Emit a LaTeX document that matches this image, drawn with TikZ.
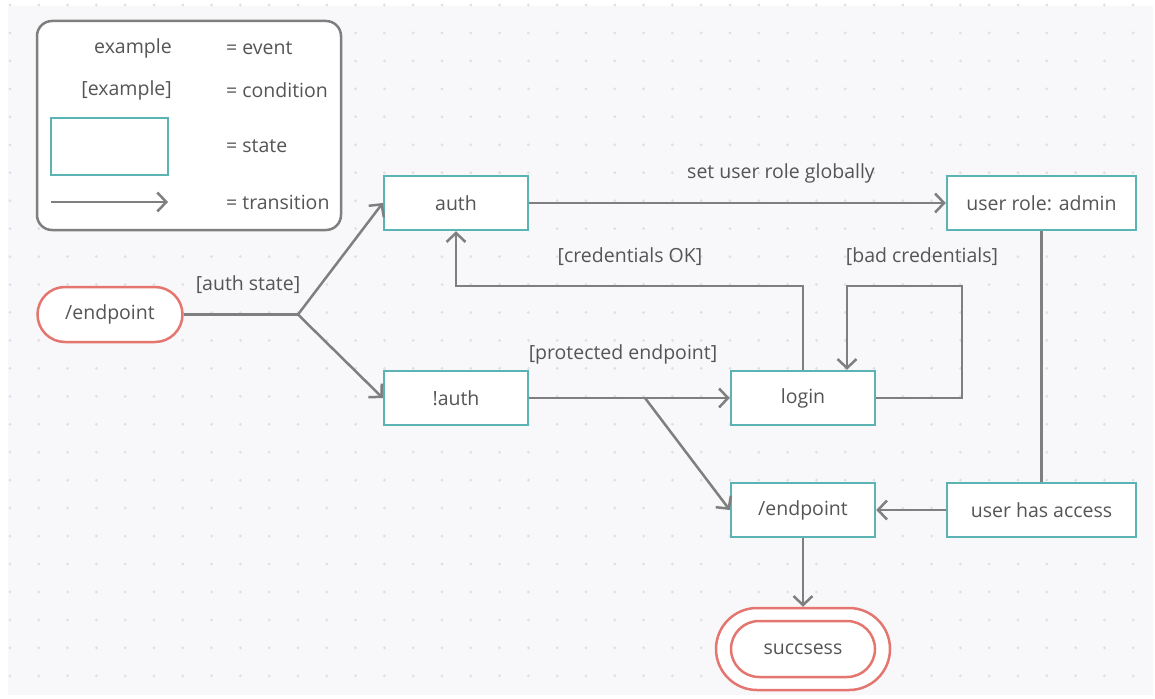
\documentclass[tikz,border=0pt]{standalone}
\usepackage{fontspec}
\setmainfont{Open Sans}
\usetikzlibrary{arrows.meta,calc}
\definecolor{bgpaper}{HTML}{F8F8FA}
\definecolor{dotc}{HTML}{DEDEE4}
\definecolor{wire}{HTML}{7F7F7F}
\definecolor{statec}{HTML}{5BB3B3}
\definecolor{endc}{HTML}{E4756F}
\definecolor{txt}{HTML}{555555}
\tikzset{
  txtstyle/.style={font=\fontsize{19.5}{22}\selectfont, text=txt},
  state/.style={draw=statec, line width=2.5pt, fill=white, minimum width=144pt,
    minimum height=54pt, inner sep=0pt, txtstyle},
  widestate/.style={state, minimum width=189pt},
  terminal/.style={draw=endc, line width=2.5pt, fill=white, rounded corners=27.5pt,
    minimum width=145pt, minimum height=55pt, inner sep=0pt, txtstyle},
  trans/.style={draw=wire, line width=2.5pt, -{Straight Barb[length=9pt,width=19pt]}},
  link/.style={draw=wire, line width=2.5pt},
  lbl/.style={txtstyle, inner sep=0pt},
}
\begin{document}
\begin{tikzpicture}[x=1pt,y=-1pt]
  % canvas and dot grid
  \fill[white] (0,0) rectangle (1155,698);
  \useasboundingbox (0,0) rectangle (1155,698);
  \fill[bgpaper] (8,6) rectangle (1153,695);
  \foreach \i in {0,...,39} {
    \foreach \j in {0,...,24} {
      \fill[dotc] ({10+28.8*\i},{5+27.95*\j}) circle (1.5pt);
    }
  }

  % legend
  \node[draw=wire, line width=2.5pt, rounded corners=15pt, fill=white,
        minimum width=304pt, minimum height=209pt] (legend) at (189,125.5) {};
  \node[lbl, anchor=east] (lgev) at (172,48) {example};
  \node[lbl, anchor=west] (lgevt) at (226,48) {= event};
  \node[lbl, anchor=east] (lgcond) at (172,90) {[example]};
  \node[lbl, anchor=west] (lgcondt) at (226,90) {= condition};
  \node[state, minimum width=117pt, minimum height=57pt] (lgstate) at (109.5,146.5) {};
  \node[lbl, anchor=west] (lgstatet) at (226,146) {= state};
  \coordinate (lgA) at (51,202);
  \coordinate (lgB) at (168,202);
  \draw[trans] (lgA) -- (lgB);
  \node[lbl, anchor=west] (lgtrt) at (226,202) {= transition};

  % states
  \node[terminal] (start) at (110,314.5) {/endpoint};
  \node[state] (auth) at (456,203) {auth};
  \node[state] (noauth) at (456,398) {!auth};
  \node[state] (login) at (803,398) {login};
  \node[widestate] (role) at (1041.5,203) {user role: admin};
  \node[state] (endp) at (803,510) {/endpoint};
  \node[widestate] (access) at (1041.5,510) {user has access};
  \node[draw=endc, line width=2.5pt, fill=white, rounded corners=41pt,
        minimum width=174pt, minimum height=82pt, inner sep=0pt, txtstyle]
        (succ) at (803,649) {};
  \draw[endc, line width=2.5pt, rounded corners=28pt]
        ($(succ.center)+(-72,-28)$) rectangle ($(succ.center)+(72,28)$);
  \node[lbl] (succtext) at (succ.center) {succsess};

  % junction points
  \coordinate (fork) at (298,314.5);
  \coordinate (split) at (645,398);
  \coordinate (okturn) at (803,286);
  \coordinate (badturn) at (962,286);

  % transitions
  \draw[link] (start.east) -- (fork);
  \draw[trans] (fork) -- (auth.west);
  \draw[trans] (fork) -- (noauth.west);
  \draw[trans] (auth.east) -- (role.west);
  \draw[trans] (login.north) -- (okturn) -| (auth.south);
  \draw[trans] (login.east) -| (badturn) -| ([xshift=44pt]login.north);
  \draw[trans] (noauth.east) -- (login.west);
  \draw[trans] (split) -- (endp.west);
  \draw[link] (role.south) -- (access.north);
  \draw[trans] (access.west) -- (endp.east);
  \draw[trans] (endp.south) -- (succ.north);

  % guards and events
  \node[lbl] (lauth) at (248,285) {[auth state]};
  \node[lbl] (lrole) at (781,173) {set user role globally};
  \node[lbl] (lok) at (630,257) {[credentials OK]};
  \node[lbl] (lbad) at (922,257) {[bad credentials]};
  \node[lbl] (lprot) at (623,354) {[protected endpoint]};
\end{tikzpicture}
\end{document}
